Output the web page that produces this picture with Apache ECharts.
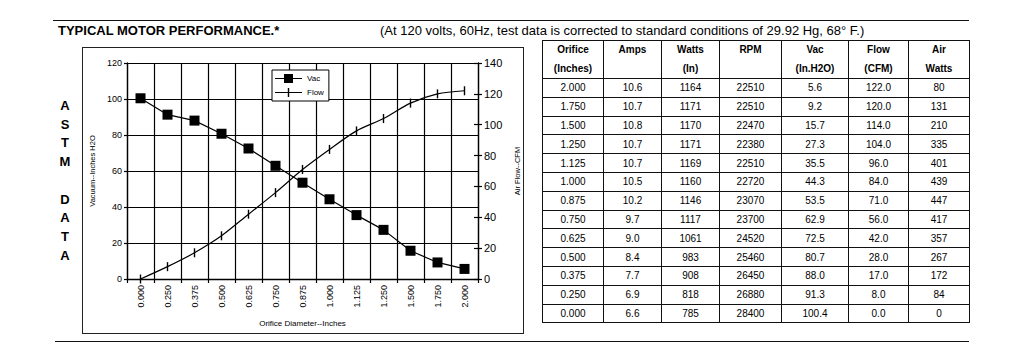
<!DOCTYPE html>
<html>
<head>
<meta charset="utf-8">
<script src="https://cdn.jsdelivr.net/npm/echarts@6/dist/echarts.min.js"></script>
<style>
  body { margin: 0; background: #fff; font-family: 'Liberation Sans', Arial, sans-serif; color: #000; }
  #page { position: relative; width: 1024px; height: 353px; overflow: hidden; }
  .rule { position: absolute; height: 0; border-top: 1.5px solid #111; }
  #title { position: absolute; left: 58px; top: 23px; font-size: 13px; font-weight: bold; }
  #sub { position: absolute; left: 380px; top: 23px; font-size: 13px; }
  #frame { position: absolute; left: 82px; top: 47px; width: 440px; height: 285px; border: 1.5px solid #222; }
  #astm { position: absolute; left: 57px; top: 97px; width: 16px; text-align: center; font-size: 13px; font-weight: bold; line-height: 18.7px; }
  #chart { position: absolute; left: 0; top: 0; width: 540px; height: 353px; }
  #tbl { position: absolute; left: 542px; top: 40px; border-collapse: collapse; table-layout: fixed; font-size: 10px; }
  #tbl td, #tbl th { border: 1px solid #111; text-align: center; padding: 0; height: 17.8px; }
  #tbl th { font-weight: bold; height: 36px; line-height: 18.5px; vertical-align: top; }
  #tbl { border: 1.5px solid #111; }
</style>
</head>
<body>
<div id="page">
  <div class="rule" style="left:53px; top:20px; width:916px;"></div>
  <div id="title">TYPICAL MOTOR PERFORMANCE.*</div>
  <div id="sub">(At 120 volts, 60Hz, test data is corrected to standard conditions of 29.92 Hg, 68° F.)</div>
  <div id="frame"></div>
  <div id="astm">A<br>S<br>T<br>M<br>&nbsp;<br>D<br>A<br>T<br>A</div>
  <div id="chart"></div>
  <table id="tbl"></table>
  <div class="rule" style="left:55px; top:341px; width:914px;"></div>
</div>
<script>
// table columns, in table order (largest orifice first)
const orifice = ['2.000', '1.750', '1.500', '1.250', '1.125', '1.000', '0.875', '0.750', '0.625', '0.500', '0.375', '0.250', '0.000'];
const amps = [10.6, 10.7, 10.8, 10.7, 10.7, 10.5, 10.2, 9.7, 9.0, 8.4, 7.7, 6.9, 6.6];
const watts = [1164, 1171, 1170, 1171, 1169, 1160, 1146, 1117, 1061, 983, 908, 818, 785];
const rpm = [22510, 22510, 22470, 22380, 22510, 22720, 23070, 23700, 24520, 25460, 26450, 26880, 28400];
const vac = [5.6, 9.2, 15.7, 27.3, 35.5, 44.3, 53.5, 62.9, 72.5, 80.7, 88.0, 91.3, 100.4];
const flow = [122.0, 120.0, 114.0, 104.0, 96.0, 84.0, 71.0, 56.0, 42.0, 28.0, 17.0, 8.0, 0.0];
const airWatts = [80, 131, 210, 335, 401, 439, 447, 417, 357, 267, 172, 84, 0];

const headers = [['Orifice', '(Inches)'], ['Amps', ''], ['Watts', '(In)'], ['RPM', ''], ['Vac', '(In.H2O)'], ['Flow', '(CFM)'], ['Air', 'Watts']];
const colWidths = [61, 58, 58, 62, 67, 60, 61];

// build the table
const tbl = document.getElementById('tbl');
let html = '<colgroup>' + colWidths.map(w => '<col style="width:' + w + 'px">').join('') + '</colgroup>';
html += '<tr>' + headers.map(h => '<th>' + h[0] + '<br>' + (h[1] || '&nbsp;') + '</th>').join('') + '</tr>';
for (let i = 0; i < orifice.length; i++) {
  html += '<tr>' +
    '<td>' + orifice[i] + '</td>' +
    '<td>' + amps[i].toFixed(1) + '</td>' +
    '<td>' + watts[i] + '</td>' +
    '<td>' + rpm[i] + '</td>' +
    '<td>' + vac[i].toFixed(1) + '</td>' +
    '<td>' + flow[i].toFixed(1) + '</td>' +
    '<td>' + airWatts[i] + '</td>' +
    '</tr>';
}
tbl.innerHTML = html;

// chart runs from the smallest orifice up
const categories = orifice.slice().reverse();
const vacSeries = vac.slice().reverse();
const flowSeries = flow.slice().reverse();

const font = "'Liberation Sans', Arial, sans-serif";
const black = '#000';

// legend icons: line with square / line with tick
const vacIcon = 'path://M0,4 L27,4 L27,5 L0,5 Z M9,0 L18,0 L18,9 L9,9 Z';
const flowIcon = 'path://M0,4 L27,4 L27,5 L0,5 Z M12.8,0 L14.2,0 L14.2,9 L12.8,9 Z';

const myChart = echarts.init(document.getElementById('chart'), null, { renderer: 'svg' });
const option = {
  animation: false,
  textStyle: { fontFamily: font, color: black },
  grid: { left: 127, top: 63, width: 351, height: 216, containLabel: false },
  legend: {
    orient: 'vertical',
    left: 272,
    top: 70,
    padding: [4, 5, 4, 3],
    itemWidth: 27,
    itemHeight: 9,
    itemGap: 5,
    borderColor: black,
    borderWidth: 1,
    backgroundColor: '#fff',
    textStyle: { fontSize: 8, color: black, fontFamily: font },
    data: [
      { name: 'Vac', icon: vacIcon },
      { name: 'Flow', icon: flowIcon }
    ]
  },
  xAxis: {
    type: 'category',
    data: categories,
    boundaryGap: true,
    axisLine: { lineStyle: { color: black, width: 1.3 } },
    axisTick: { show: true, length: 4, lineStyle: { color: black, width: 1.2 } },
    splitLine: { show: true, lineStyle: { color: black, width: 1.2 } },
    axisLabel: { rotate: 90, fontSize: 9, margin: 6, color: black, fontFamily: font },
    name: 'Orifice Diameter--Inches',
    nameLocation: 'middle',
    nameGap: 40,
    nameTextStyle: { fontSize: 8, color: black, fontFamily: font }
  },
  yAxis: [
    {
      type: 'value',
      min: 0,
      max: 120,
      interval: 20,
      axisLine: { show: true, lineStyle: { color: black, width: 1.3 } },
      axisTick: { show: true, length: 3, lineStyle: { color: black, width: 1.2 } },
      splitLine: { show: true, lineStyle: { color: black, width: 1.2 } },
      axisLabel: { fontSize: 9, margin: 5, color: black, fontFamily: font },
      name: 'Vacuum--Inches H2O',
      nameLocation: 'middle',
      nameGap: 31,
      nameTextStyle: { fontSize: 7.5, color: black, fontFamily: font }
    },
    {
      type: 'value',
      position: 'right',
      min: 0,
      max: 140,
      interval: 20,
      axisLine: { show: true, lineStyle: { color: black, width: 1.3 } },
      axisTick: { show: true, length: 4, lineStyle: { color: black, width: 1.2 } },
      splitLine: { show: false },
      axisLabel: { fontSize: 11, margin: 6, color: black, fontFamily: font },
      name: 'Air Flow--CFM',
      nameLocation: 'middle',
      nameGap: 29,
      nameRotate: 90,
      nameTextStyle: { fontSize: 7.5, color: black, fontFamily: font }
    },
    {
      // inner half of the right-axis ticks
      type: 'value',
      position: 'right',
      min: 0,
      max: 140,
      interval: 20,
      axisLine: { show: false },
      axisTick: { show: true, inside: true, length: 4, lineStyle: { color: black, width: 1.2 } },
      axisLabel: { show: false },
      splitLine: { show: false }
    }
  ],
  series: [
    {
      name: 'Vac',
      type: 'line',
      yAxisIndex: 0,
      data: vacSeries,
      symbol: 'rect',
      symbolSize: 10,
      itemStyle: { color: black },
      lineStyle: { color: black, width: 1.2 }
    },
    {
      name: 'Flow',
      type: 'line',
      yAxisIndex: 1,
      data: flowSeries,
      smooth: 0.3,
      symbol: 'rect',
      symbolSize: [1.4, 9],
      itemStyle: { color: black },
      lineStyle: { color: black, width: 1.2 }
    }
  ]
};
myChart.setOption(option);
</script>
</body>
</html>
